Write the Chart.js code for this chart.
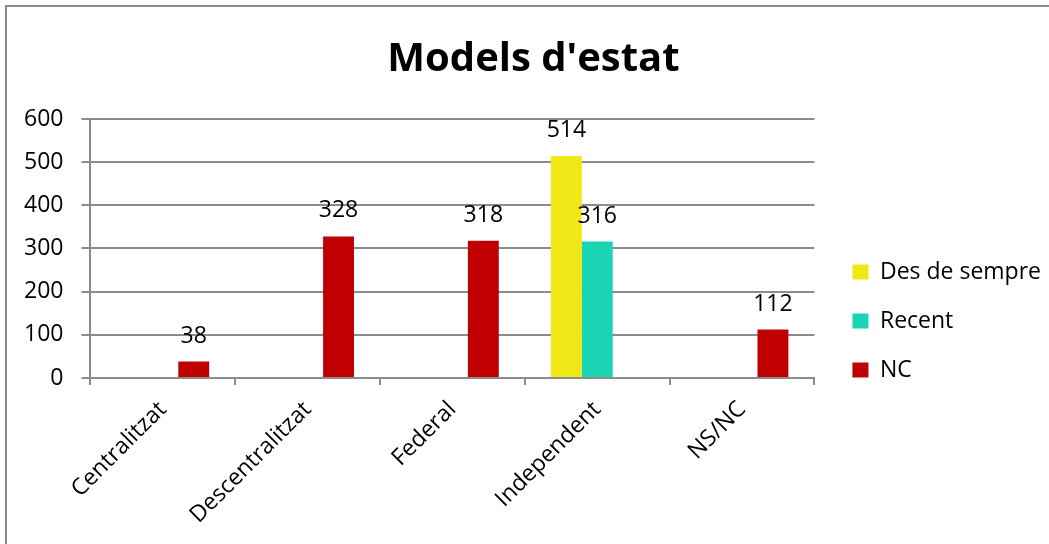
<!DOCTYPE html>
<html>
<head>
<meta charset="utf-8">
<script src="https://cdn.jsdelivr.net/npm/chart.js@4.4.0/dist/chart.umd.min.js"></script>
<style>
html, body { margin: 0; padding: 0; background: #fff; overflow: hidden; }
#frame { position: absolute; left: 5px; top: 5px; width: 1100px; height: 600px;
         border-left: 2px solid #898989; border-top: 2px solid #898989; }
#wrap { position: absolute; left: 0; top: 0; width: 1049px; height: 544px; }
</style>
</head>
<body>
<div id="frame"></div>
<div id="wrap"><canvas id="chart"></canvas></div>
<script>
// data
const categories = ['Centralitzat', 'Descentralitzat', 'Federal', 'Independent', 'NS/NC'];
const desDeSempre = [null, null, null, 514, null];
const recent = [null, null, null, 316, null];
const nc = [38, 328, 318, null, 112];
const yMin = 0;
const yMax = 600;
const yStep = 100;

const FONT = '"Open Sans", sans-serif';

// write the value above each bar
const valueLabels = {
    id: 'valueLabels',
    afterDatasetsDraw(chart) {
        const ctx = chart.ctx;
        ctx.save();
        ctx.font = '23px ' + FONT;
        ctx.fillStyle = '#000';
        ctx.textAlign = 'center';
        ctx.textBaseline = 'alphabetic';
        chart.data.datasets.forEach((ds, i) => {
            const meta = chart.getDatasetMeta(i);
            meta.data.forEach((bar, j) => {
                const v = ds.data[j];
                if (v === null || v === undefined) return;
                ctx.fillText(String(v), bar.x, bar.y - 19);
            });
        });
        ctx.restore();
    }
};

// nudge the legend and title a bit, like the original
const boxShift = {
    id: 'boxShift',
    afterLayout(chart) {
        const lg = chart.legend;
        lg.left += 12; lg.right += 12;
        lg.top += 33; lg.bottom += 33;
        const tb = chart.titleBlock;
        tb.left += 11; tb.right += 11;
    }
};

const ctx = document.getElementById('chart').getContext('2d');
const chart = new Chart(ctx, {
    type: 'bar',
    data: {
        labels: categories,
        datasets: [
            { label: 'Des de sempre', data: desDeSempre, backgroundColor: '#F0E816' },
            { label: 'Recent', data: recent, backgroundColor: '#1BD4B4' },
            { label: 'NC', data: nc, backgroundColor: '#C00000' }
        ]
    },
    options: {
        responsive: true,
        maintainAspectRatio: false,
        animation: false,
        categoryPercentage: 0.64,
        barPercentage: 1.0,
        layout: { padding: { left: 6, right: 10, top: 36, bottom: 4 } },
        plugins: {
            title: {
                display: true,
                text: "Models d'estat",
                color: '#000',
                font: { family: FONT, size: 40, weight: 'bold' },
                padding: { top: 0, bottom: 35 }
            },
            legend: {
                position: 'right',
                labels: {
                    color: '#000',
                    font: { family: FONT, size: 23 },
                    boxWidth: 16,
                    boxHeight: 15,
                    padding: 26
                }
            },
            tooltip: { enabled: false }
        },
        scales: {
            x: {
                grid: {
                    offset: true,
                    drawOnChartArea: false,
                    drawTicks: true,
                    tickLength: 7,
                    color: '#8c8c8c',
                    lineWidth: 2
                },
                border: { color: '#8c8c8c', width: 2 },
                ticks: {
                    color: '#000',
                    font: { family: FONT, size: 23 },
                    minRotation: 45,
                    maxRotation: 45,
                    padding: 11
                }
            },
            y: {
                min: yMin,
                max: yMax,
                grid: { color: '#8c8c8c', lineWidth: 2, tickLength: 9 },
                border: { color: '#8c8c8c', width: 2 },
                ticks: {
                    stepSize: yStep,
                    color: '#000',
                    font: { family: FONT, size: 23 },
                    padding: 18
                }
            }
        }
    },
    plugins: [valueLabels, boxShift]
});
</script>
</body>
</html>
